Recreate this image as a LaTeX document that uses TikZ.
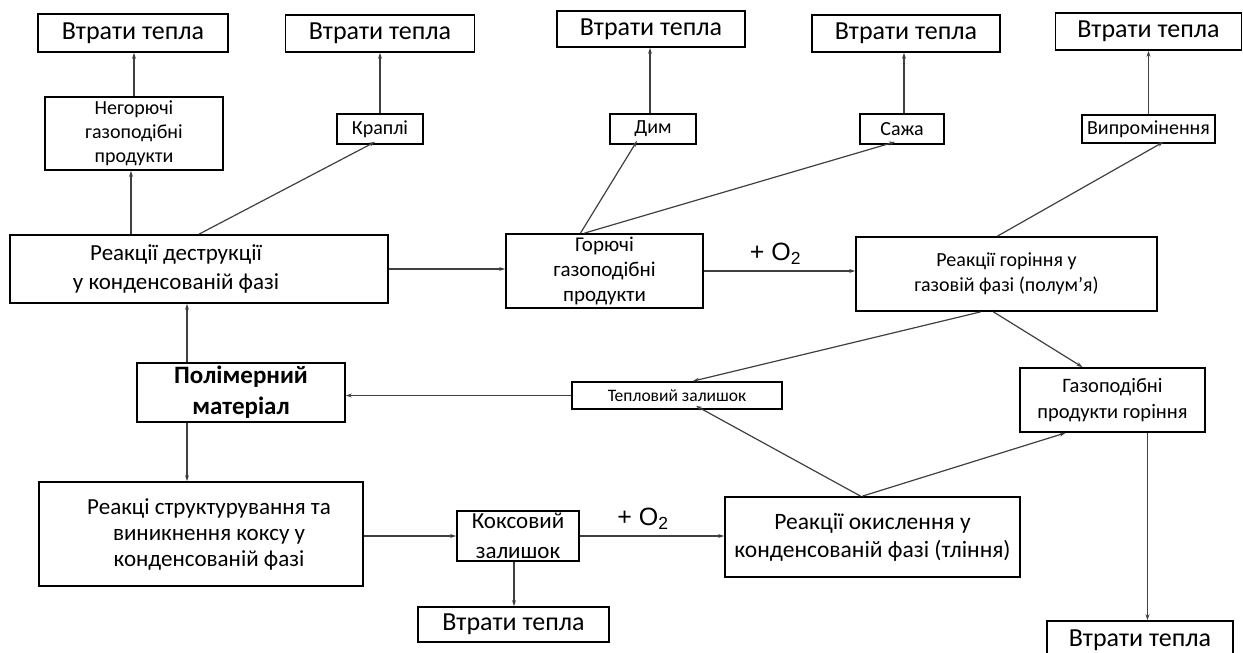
\documentclass[tikz,border=0pt]{standalone}
\usepackage{fontspec}
\setmainfont{Carlito}
\newfontfamily\arialf{Liberation Sans}
\usetikzlibrary{arrows.meta,calc}
\tikzset{
  box/.style={draw=black,line width=1.8pt,inner sep=0pt,align=center,fill=white},
  conn/.style={draw=black!75,line width=1.2pt,-{Stealth[length=6pt,width=4pt]}},
  big/.style={font=\fontsize{26}{30}\selectfont},
  sml/.style={font=\fontsize{20}{24}\selectfont},
  oxlab/.style={font=\arialf\fontsize{25}{27}\selectfont,inner sep=0pt}
}
\begin{document}
\begin{tikzpicture}[x=1pt,y=-1pt]
\path[use as bounding box,clip] (0,0) rectangle (1243,653);
\fill[white] (0,0) rectangle (1243,653);
% top heat-loss boxes
\node[box,big,minimum width=190pt,minimum height=38pt] (loss1) at (133,33) {Втрати тепла};
\node[box,big,minimum width=189pt,minimum height=37pt] (loss2) at (380,33.5) {Втрати тепла};
\node[box,big,minimum width=188pt,minimum height=36pt] (loss3) at (651,29) {Втрати тепла};
\node[box,big,minimum width=188pt,minimum height=37pt] (loss4) at (906,33.5) {Втрати тепла};
\node[box,big,minimum width=186pt,minimum height=37pt] (loss5) at (1148.5,31.5) {Втрати тепла};
% second row
\node[box,sml,minimum width=178pt,minimum height=73pt] (nongas) at (134,133.5) {Негорючі\\газоподібні\\продукти};
\node[box,sml,minimum width=86pt,minimum height=30pt] (drops) at (380,129) {Краплі};
\node[box,sml,minimum width=86pt,minimum height=30pt] (smoke) at (653,129) {Дим};
\node[box,sml,minimum width=84pt,minimum height=30pt] (soot) at (902,129) {Сажа};
\node[box,sml,minimum width=133pt,minimum height=28pt] (rad) at (1148.5,129) {Випромінення};
% middle row
\node[box,minimum width=378pt,minimum height=68pt,
  label={[font=\fontsize{23}{29}\selectfont,align=center,xshift=-23pt]center:Реакції деструкції\\у конденсованій фазі}] (destr) at (199,269) {};
\node[box,font=\fontsize{21}{25}\selectfont,minimum width=197pt,minimum height=74pt] (comb) at (604.5,271) {Горючі\\газоподібні\\продукти};
\node[box,font=\fontsize{20}{25}\selectfont,minimum width=301pt,minimum height=74pt] (flame) at (1006.5,274) {Реакції горіння у\\газовій фазі (полум'я)};
% polymer row
\node[box,minimum width=208pt,minimum height=59pt,font=\bfseries\fontsize{25}{31}\selectfont] (polym) at (241,392.5) {Полімерний\\матеріал};
\node[box,font=\fontsize{17.5}{20}\selectfont,minimum width=210pt,minimum height=27pt] (heatres) at (677,395.5) {Тепловий залишок};
\node[box,font=\fontsize{20.5}{26}\selectfont,minimum width=185pt,minimum height=64pt] (gasprod) at (1112.5,400) {Газоподібні\\продукти горіння};
% bottom row
\node[box,minimum width=324pt,minimum height=104pt,
  label={[font=\fontsize{23}{26}\selectfont,align=center,xshift=8pt]center:Реакці структурування та\\виникнення коксу у\\конденсованій фазі}] (struct) at (201,534) {};
\node[box,minimum width=122pt,minimum height=50pt,font=\fontsize{23}{30}\selectfont] (coke) at (518,536) {Коксовий\\залишок};
\node[box,minimum width=295pt,minimum height=80pt,font=\fontsize{23.5}{28}\selectfont] (oxid) at (872.5,537) {Реакції окислення у\\конденсованій фазі (тління)};
\node[box,big,minimum width=191pt,minimum height=35pt] (loss6) at (513.5,624.5) {Втрати тепла};
\node[box,big,minimum width=186pt,minimum height=38pt] (loss7) at (1140,640) {Втрати тепла};
% connectors to top losses
\draw[conn] (nongas.north) -- (nongas.north |- loss1.south);
\draw[conn] (drops.north) -- (drops.north |- loss2.south);
\draw[conn] ([xshift=-3pt]smoke.north) -- ([xshift=-3pt]smoke.north |- loss3.south);
\draw[conn] ([xshift=2pt]soot.north) -- ([xshift=2pt]soot.north |- loss4.south);
\draw[conn] (rad.north) -- (rad.north |- loss5.south);
% from destruction
\draw[conn] ([xshift=-3pt]destr.north -| nongas.south) -- ([xshift=-3pt]nongas.south);
\draw[conn] ([xshift=190pt]destr.north west) -- ([xshift=-5pt,yshift=3pt]drops.south);
\draw[conn] (destr.east) -- (destr.east -| comb.west);
\draw[conn] ([xshift=-54pt]polym.north) -- ([xshift=-54pt]polym.north |- destr.south);
% from combustible gases
\draw[conn] ([xshift=-24pt]comb.north) -- ([xshift=-16pt,yshift=4pt]smoke.south);
\draw[conn] ([xshift=-20pt]comb.north) -- ([xshift=-7pt,yshift=3pt]soot.south);
\draw[conn] (comb.east) -- node[oxlab,above=6pt,xshift=-4pt] {+ O\textsubscript{2}} (comb.east -| flame.west);
% from flame
\draw[conn] ([xshift=-9pt]flame.north) -- ([xshift=15pt,yshift=2pt]rad.south);
\draw[conn] ([xshift=-26pt]flame.south) -- ([xshift=16pt]heatres.north);
\draw[conn] ([xshift=-13pt]flame.south) -- ([xshift=-30pt]gasprod.north);
% heat residue back to polymer
\draw[conn] (heatres.west) -- (heatres.west -| polym.east);
% structuring
\draw[conn] ([xshift=-54pt]polym.south) -- ([xshift=-54pt]polym.south |- struct.north);
\draw[conn] (struct.east |- coke.west) -- (coke.west);
\draw[conn] (coke.east) -- node[oxlab,above=6pt,xshift=-9pt] {+ O\textsubscript{2}} (coke.east -| oxid.west);
\draw[conn] ([xshift=-4pt]coke.south) -- ([xshift=-4pt]coke.south |- loss6.north);
% oxidation
\draw[conn] ([xshift=-12pt]oxid.north) -- ([xshift=19pt,yshift=4pt]heatres.south);
\draw[conn] ([xshift=-10pt]oxid.north) -- ([xshift=-47pt]gasprod.south);
\draw[conn] ([xshift=35pt]gasprod.south) -- ([xshift=35pt]gasprod.south |- loss7.north);
\end{tikzpicture}
\end{document}
